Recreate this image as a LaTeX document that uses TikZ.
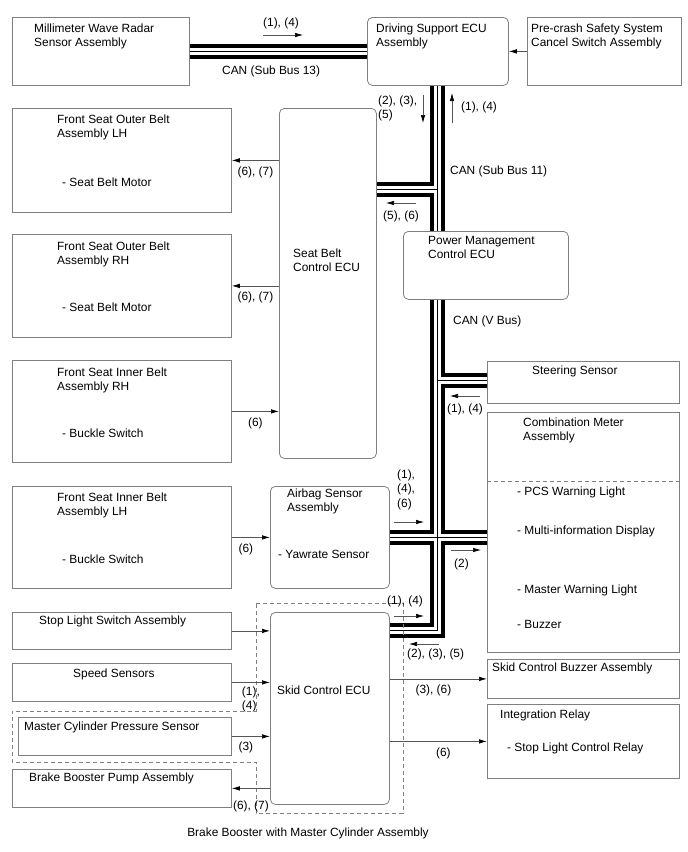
\documentclass[tikz,border=0pt]{standalone}
\usepackage{fontspec}
\setmainfont{Liberation Sans}
\usetikzlibrary{arrows.meta, calc, positioning, backgrounds}
\definecolor{boxGray}{RGB}{128,128,128}
\definecolor{wireGray}{RGB}{85,85,85}
\tikzset{
    unitBox/.style={draw=boxGray, line width=0.8pt, fill=white, inner sep=0pt, anchor=north west},
    ecuBox/.style={unitBox, rounded corners=5pt},
    txt/.style={inner sep=0pt, anchor=base west, align=left, font=\fontsize{11.9}{14.5}\selectfont},
    cLab/.style={inner sep=0pt, align=left, font=\fontsize{11.9}{14.5}\selectfont},
    wire/.style={-{Latex[length=8pt, width=4.5pt, black]}, draw=wireGray, line width=0.7pt},
    busOuter/.style={line width=15pt, black, line join=miter},
    busGap/.style={line width=7pt, white, line join=miter},
    busCore/.style={line width=0.8pt, black, line join=miter},
    divider/.style={draw=boxGray, dash pattern=on 4pt off 3pt, line width=0.7pt},
}
\newcommand{\drawBox}[6][unitBox]{
    \node[#1, minimum width={#5-#3}, minimum height={#6-#4}] (#2) at (#3,#4) {};
}
\newcommand{\drawFlow}[5]{
    % kleiner Signalpfeil neben dem Bus
    \coordinate (#1s) at (#2,#3);
    \coordinate (#1e) at (#4,#5);
    \draw[wire] (#1s) -- (#1e);
}

\begin{document}
\begin{tikzpicture}[x=1pt, y=-1pt]
    \useasboundingbox (0,0) rectangle (688,852);

    % Knoten
    \drawBox{radar}{12}{17}{189}{85}
    \drawBox[ecuBox]{dsecu}{367}{17}{508}{85}
    \drawBox{cancel}{527}{17}{681}{85}
    \drawBox{outerlh}{12}{108}{231}{212}
    \drawBox[ecuBox]{sbecu}{279}{108}{376}{458}
    \drawBox{outerrh}{12}{234}{231}{337}
    \drawBox{innerrh}{12}{360}{231}{462}
    \drawBox[ecuBox]{pmecu}{403}{231}{568}{299}
    \drawBox{steer}{487}{361}{679}{403}
    \drawBox{meter}{487}{412}{679}{652}
    \drawBox{innerlh}{12}{486}{231}{588}
    \drawBox[ecuBox]{airbag}{270}{486}{389}{588}
    \drawBox{stopsw}{12}{612}{231}{649}
    \drawBox[ecuBox]{skidecu}{270}{612}{389}{804}
    \drawBox{speed}{12}{663}{231}{701}
    \drawBox{mcps}{18}{717}{231}{755}
    \drawBox{pump}{12}{769}{231}{807}
    \drawBox{buzzer}{487}{659}{679}{698}
    \drawBox{relay}{487}{704}{679}{778}

    % Bus
    \coordinate (bus) at (437,0);
    \coordinate (jSB) at (437,189);
    \coordinate (jST) at (437,380);
    \coordinate (jAB) at (437,537);
    \coordinate (jSK) at (437,630.5);
    \begin{scope}[on background layer]
    \foreach \layer in {busOuter, busGap, busCore} {
        \draw[\layer] (radar.east) -- (dsecu.west);
        \draw[\layer] (dsecu.south -| bus) -- (pmecu.north -| bus);
        \draw[\layer] (jSB -| sbecu.east) -- (jSB);
        \draw[\layer] (pmecu.south -| bus) -- (jSK) -- (jSK -| skidecu.east);
        \draw[\layer] (jST) -- (jST -| steer.west);
        \draw[\layer] (jAB -| airbag.east) -- (jAB -| meter.west);
    }
    \end{scope}

    % Baugruppe
    \draw[divider] (256,603) -- (403,603) -- (403,813) -- (256,813) -- (256,762)
        -- (12,762) -- (12,711) -- (256,711) -- cycle;
    \draw[divider] (meter.west |- 0,481) -- (meter.east |- 0,481);

    % Texte
    \node[txt] (radarT) at (34,46.5) {Millimeter Wave Radar\\Sensor Assembly};
    \node[txt] (dsecuT) at (376,46.5) {Driving Support ECU\\Assembly};
    \node[txt] (cancelT) at (531,46.5) {Pre-crash Safety System\\Cancel Switch Assembly};
    \node[txt] (outerlhT) at (57,137.5) {Front Seat Outer Belt\\Assembly LH};
    \node[txt] (outerlhS) at (62,186) {- Seat Belt Motor};
    \node[txt] (sbecuT) at (293,271.5) {Seat Belt\\Control ECU};
    \node[txt] (outerrhT) at (57,264.5) {Front Seat Outer Belt\\Assembly RH};
    \node[txt] (outerrhS) at (62,311) {- Seat Belt Motor};
    \node[txt] (innerrhT) at (57,390.5) {Front Seat Inner Belt\\Assembly RH};
    \node[txt] (innerrhS) at (62,437) {- Buckle Switch};
    \node[txt] (pmecuT) at (428,258.5) {Power Management\\Control ECU};
    \node[txt] (steerT) at (532,374) {Steering Sensor};
    \node[txt] (meterT) at (523,440.5) {Combination Meter\\Assembly};
    \node[txt] (meterA) at (517,495) {- PCS Warning Light};
    \node[txt] (meterB) at (517,534) {- Multi-information Display};
    \node[txt] (meterC) at (517,593) {- Master Warning Light};
    \node[txt] (meterD) at (517,628) {- Buzzer};
    \node[txt] (innerlhT) at (57,515.5) {Front Seat Inner Belt\\Assembly LH};
    \node[txt] (innerlhS) at (62,563) {- Buckle Switch};
    \node[txt] (airbagT) at (287,511.5) {Airbag Sensor\\Assembly};
    \node[txt] (airbagS) at (278,558) {- Yawrate Sensor};
    \node[txt] (stopswT) at (39,624) {Stop Light Switch Assembly};
    \node[txt] (skidecuT) at (277,694) {Skid Control ECU};
    \node[txt] (speedT) at (73,677) {Speed Sensors};
    \node[txt] (mcpsT) at (24,730) {Master Cylinder Pressure Sensor};
    \node[txt] (pumpT) at (29,781) {Brake Booster Pump Assembly};
    \node[txt] (buzzerT) at (492,671) {Skid Control Buzzer Assembly};
    \node[txt] (relayT) at (500,718) {Integration Relay};
    \node[txt] (relayS) at (507,751) {- Stop Light Control Relay};
    \node[cLab, anchor=base] (boosterT) at (308,836) {Brake Booster with Master Cylinder Assembly};
    \node[txt] (can13) at (222,74) {CAN (Sub Bus 13)};
    \node[txt] (can11) at (450,174) {CAN (Sub Bus 11)};
    \node[txt] (canV) at (453,324) {CAN (V Bus)};

    % Signale am Bus
    \drawFlow{f1}{263}{35}{303}{35}
    \node[txt] (f1T) at (263,26) {(1), (4)};
    \drawFlow{f2}{423}{95}{423}{123}
    \node[txt] (f2T) at (378,118.5) {(2), (3),\\(5)};
    \drawFlow{f3}{452}{123}{452}{93}
    \node[txt] (f3T) at (461,110) {(1), (4)};
    \drawFlow{f4}{416}{203}{386}{203}
    \node[txt] (f4T) at (383,219) {(5), (6)};
    \drawFlow{f5}{480}{396}{450}{396}
    \node[txt] (f5T) at (447,412) {(1), (4)};
    \drawFlow{f6}{394}{522}{424}{522}
    \node[txt] (f6T) at (397,507) {(1),\\(4),\\(6)};
    \drawFlow{f7}{451}{550}{481}{550}
    \node[txt] (f7T) at (454,567) {(2)};
    \drawFlow{f8}{394}{616}{424}{616}
    \node[txt] (f8T) at (387,604) {(1), (4)};
    \drawFlow{f9}{439}{644}{409}{644}
    \node[txt] (f9T) at (407,657) {(2), (3), (5)};

    % Leitungen
    \draw[wire] (cancel.west) -- (dsecu.east);
    \draw[wire] (sbecu.west |- outerlh.east) -- node[cLab, below=6pt] {(6), (7)} (outerlh.east);
    \draw[wire] (sbecu.west |- outerrh.east) -- node[cLab, below=6pt] {(6), (7)} (outerrh.east);
    \draw[wire] (innerrh.east) -- node[cLab, below=6pt] {(6)} (sbecu.west |- innerrh.east);
    \draw[wire] (innerlh.east) -- node[cLab, below=6pt, xshift=-5pt] {(6)} (airbag.west |- innerlh.east);
    \draw[wire] (stopsw.east) -- (skidecu.west |- stopsw.east);
    \draw[wire] (speed.east) -- node[cLab, below=4pt] {(1),\\(4)} (skidecu.west |- speed.east);
    \draw[wire] (mcps.east) -- node[cLab, below=5pt, xshift=-5pt] {(3)} (skidecu.west |- mcps.east);
    \draw[wire] (skidecu.west |- pump.east) -- node[cLab, below=12pt] {(6), (7)} (pump.east);
    \draw[wire] (skidecu.east |- buzzer.west) -- node[cLab, below=6pt, xshift=-5pt] {(3), (6)} (buzzer.west);
    \draw[wire] (skidecu.east |- relay.west) -- node[cLab, below=6pt, xshift=5pt] {(6)} (relay.west);

\end{tikzpicture}
\end{document}
